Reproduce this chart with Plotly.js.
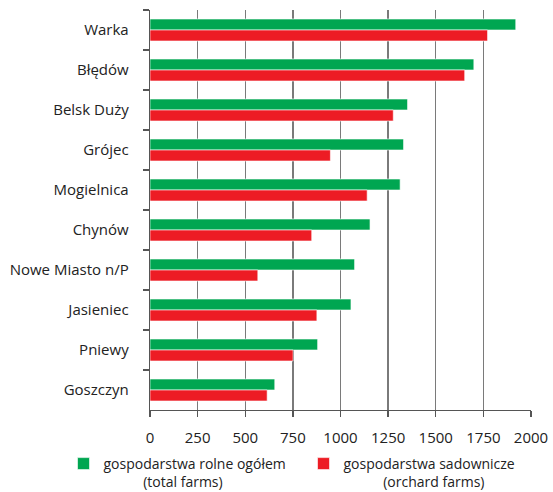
<!DOCTYPE html>
<html>
<head>
<meta charset="utf-8">
<script src="https://cdn.plot.ly/plotly-3.0.1.min.js"></script>
<style>html,body{margin:0;padding:0;background:#fff;}#chart{width:553px;height:492px;}</style>
</head>
<body>
<div id="chart"></div>
<script>
const categories = ["Warka", "Błędów", "Belsk Duży", "Grójec", "Mogielnica", "Chynów", "Nowe Miasto n/P", "Jasieniec", "Pniewy", "Goszczyn"];
const totalFarms = [1920, 1700, 1352, 1331, 1313, 1155, 1074, 1055, 880, 655];
const orchardFarms = [1772, 1652, 1277, 947, 1140, 849, 566, 876, 751, 615];
const xTicks = [0, 250, 500, 750, 1000, 1250, 1500, 1750, 2000];
const seriesNames = ["gospodarstwa rolne ogółem", "gospodarstwa sadownicze"];
const seriesNamesEn = ["(total farms)", "(orchard farms)"];
const indent = s => '<span style="color:rgba(0,0,0,0)">' + s + '</span>';
const legendNames = [seriesNames[0] + "<br>" + indent("gospo") + seriesNamesEn[0],
                     seriesNames[1] + "<br>" + indent("gospo") + seriesNamesEn[1]];

const font = "Open Sans, Lato, sans-serif";
const data = [
  {type: "bar", orientation: "h", y: categories, x: totalFarms, name: legendNames[0],
   marker: {color: "#00A651", line: {color: "rgba(255,255,255,0.6)", width: 1}}},
  {type: "bar", orientation: "h", y: categories, x: orchardFarms, name: legendNames[1],
   marker: {color: "#ED1C24", line: {color: "rgba(255,255,255,0.6)", width: 1}}}
];
const layout = {
  width: 553, height: 492,
  margin: {l: 150, r: 22, t: 10, b: 82, autoexpand: false},
  paper_bgcolor: "#fff", plot_bgcolor: "#fff",
  font: {family: font, size: 15, color: "#222"},
  barmode: "group", bargap: 0.45, bargroupgap: 0,
  showlegend: true,
  legend: {orientation: "h", x: -0.227, xanchor: "left", y: -0.095, yanchor: "top", valign: "top",
           font: {family: font, size: 14, color: "#222"}, entrywidth: 195, entrywidthmode: "pixels",
           traceorder: "normal", itemclick: false},
  xaxis: {range: [0, 2000], tickvals: xTicks, ticktext: xTicks.map(String),
          showgrid: true, gridcolor: "#7a7a7a", gridwidth: 1.3, zeroline: false,
          showline: true, linecolor: "#555", linewidth: 1.3,
          ticks: "outside", ticklen: 6, tickcolor: "#555", tickwidth: 1.3,
          ticklabelstandoff: 8, tickfont: {family: font, size: 15, color: "#222"}, fixedrange: true},
  yaxis: {type: "category", autorange: "reversed", showgrid: false, zeroline: false,
          showline: true, linecolor: "#555", linewidth: 1.3,
          ticks: "outside", tickson: "boundaries", ticklen: 6, tickcolor: "#555", tickwidth: 1.3,
          ticklabelstandoff: 17, tickfont: {family: font, size: 15, color: "#222"}, fixedrange: true}
};
Plotly.newPlot("chart", data, layout, {staticPlot: true, displayModeBar: false});
</script>
</body>
</html>
